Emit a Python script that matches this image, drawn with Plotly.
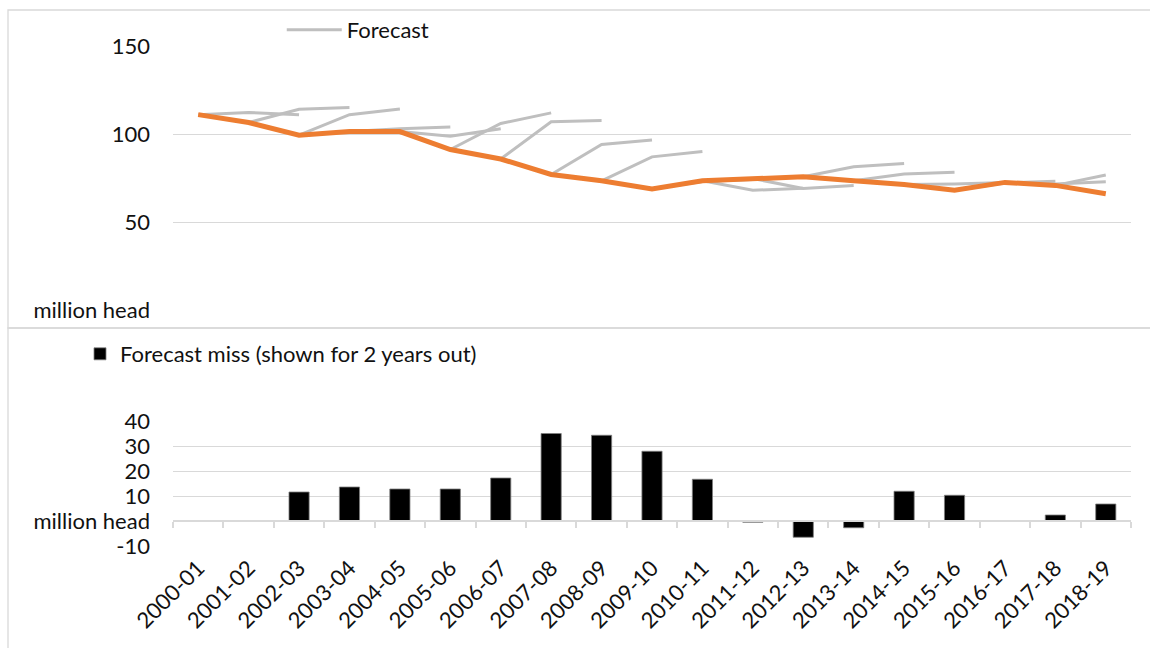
import plotly.graph_objects as go

# Marketing years on the shared category axis
categories = ["2000-01", "2001-02", "2002-03", "2003-04", "2004-05", "2005-06",
              "2006-07", "2007-08", "2008-09", "2009-10", "2010-11", "2011-12",
              "2012-13", "2013-14", "2014-15", "2015-16", "2016-17", "2017-18",
              "2018-19"]

# Actual inventory, million head
actual = [111.0, 106.5, 99.3, 101.4, 101.4, 91.2, 85.8, 77.0, 73.4, 68.7,
          73.4, 74.7, 75.7, 73.4, 71.3, 68.0, 72.5, 70.8, 66.0]

# Forecast made in each year for the following year (origin 2000-01 .. 2017-18)
forecast_1yr = [112.2, 114.0, 111.0, 103.0, 98.7, 106.0, 107.0, 94.0, 87.0,
                73.0, 68.0, 69.0, 81.4, 77.3, 71.6, 72.2, 71.6, 76.7]

# Forecast made in each year for two years ahead (origin 2000-01 .. 2016-17)
forecast_2yr = [110.9, 115.0, 114.2, 104.0, 103.0, 112.0, 107.7, 96.6, 90.1,
                74.2, 69.2, 70.7, 83.2, 78.3, 72.5, 73.2, 72.8]

# Two-years-out forecast miss, million head
miss_2yr = [None, None, 11.6, 13.6, 12.8, 12.8, 17.2, 35.0, 34.3, 27.9, 16.7,
            -0.5, -6.5, -2.7, 11.9, 10.3, None, 2.4, 6.8]

top_ticks = [0, 50, 100, 150]
top_ticktext = ["million head", "50", "100", "150"]
bottom_ticks = [-10, 0, 10, 20, 30, 40]
bottom_ticktext = ["-10", "million head", "10", "20", "30", "40"]

W, H = 1150, 648
FONT = "Lato, 'Open Sans', sans-serif"
FS = 22
GRID = "#d9d9d9"
TEXT = "#111111"


def py(px):
    """Pixel row from the top -> paper fraction."""
    return 1 - px / H


x_dom = [173 / W, 1131 / W]
cat_range = [-0.5, len(categories) - 0.5]

fig = go.Figure()

# Forecast paths, each starting from that year's actual value
for i in range(len(forecast_1yr)):
    ys = [actual[i], forecast_1yr[i]]
    if i < len(forecast_2yr):
        ys.append(forecast_2yr[i])
    fig.add_trace(go.Scatter(
        x=categories[i:i + len(ys)], y=ys, mode="lines",
        line=dict(color="#bfbfbf", width=3),
        name="Forecast", legend="legend", showlegend=(i == 0),
        hoverinfo="skip", xaxis="x", yaxis="y"))

# Actual series
fig.add_trace(go.Scatter(
    x=categories, y=actual, mode="lines",
    line=dict(color="#ed7d31", width=5),
    name="Actual", showlegend=False, xaxis="x", yaxis="y"))

# Forecast miss bars
fig.add_trace(go.Bar(
    x=categories, y=miss_2yr, width=0.4,
    marker=dict(color="#000000", line=dict(color="#7f7f7f", width=0.8)),
    name="Forecast miss (shown for 2 years out)", legend="legend2",
    xaxis="x2", yaxis="y2"))

# Empty trace carrying the zero-line category axis of the lower chart
fig.add_trace(go.Scatter(
    x=categories, y=[None] * len(categories), mode="lines",
    showlegend=False, hoverinfo="skip", xaxis="x3", yaxis="y2"))

axis_font = dict(family=FONT, size=FS, color=TEXT)

fig.update_layout(
    width=W, height=H,
    margin=dict(l=0, r=0, t=0, b=0, autoexpand=False),
    paper_bgcolor="white", plot_bgcolor="white",
    font=dict(family=FONT, size=FS, color=TEXT),
    xaxis=dict(domain=x_dom, anchor="y", type="category",
               categoryorder="array", categoryarray=categories,
               range=cat_range, showticklabels=False, showgrid=False,
               showline=False, zeroline=False, ticks="", automargin=False),
    yaxis=dict(domain=[py(310), py(46)], anchor="x", range=[0, 150],
               tickvals=top_ticks, ticktext=top_ticktext, showgrid=True,
               gridcolor=GRID, gridwidth=1.3, zeroline=False, showline=False,
               ticks="", ticklabelstandoff=22, tickfont=axis_font,
               automargin=False),
    xaxis2=dict(domain=x_dom, anchor="y2", type="category",
                categoryorder="array", categoryarray=categories,
                range=cat_range, showgrid=False, showline=False,
                zeroline=False, ticks="", tickangle=-45, tickfont=axis_font,
                ticklabelstandoff=4, automargin=False),
    yaxis2=dict(domain=[py(546), py(421)], anchor="x2", range=[-10, 40],
                tickvals=bottom_ticks, ticktext=bottom_ticktext,
                showgrid=True, gridcolor=GRID, gridwidth=1.3, zeroline=False,
                showline=False, ticks="", ticklabelstandoff=22,
                tickfont=axis_font, automargin=False),
    xaxis3=dict(domain=x_dom, anchor="free", position=py(521),
                overlaying="x2", type="category", categoryorder="array",
                categoryarray=categories, range=cat_range,
                showline=True, linecolor=GRID, linewidth=1.5,
                ticks="outside", ticklen=6, tickcolor=GRID, tickwidth=1.5,
                tickson="boundaries", showticklabels=False, showgrid=False,
                zeroline=False, automargin=False),
    legend=dict(x=0.245, y=py(9), xanchor="left", yanchor="top",
                orientation="h", itemwidth=55, bgcolor="rgba(0,0,0,0)",
                font=dict(family=FONT, size=FS, color=TEXT)),
    legend2=dict(x=80 / W, y=py(333), xanchor="left", yanchor="top",
                 orientation="h", bgcolor="rgba(0,0,0,0)",
                 font=dict(family=FONT, size=FS, color=TEXT)),
    shapes=[
        dict(type="rect", xref="paper", yref="paper",
             x0=8 / W, x1=1.01, y0=py(328), y1=py(10),
             line=dict(color=GRID, width=1.3), layer="below"),
        dict(type="rect", xref="paper", yref="paper",
             x0=8 / W, x1=1.01, y0=-0.01, y1=py(328),
             line=dict(color=GRID, width=1.3), layer="below"),
    ],
)

fig.write_html("out.html")
